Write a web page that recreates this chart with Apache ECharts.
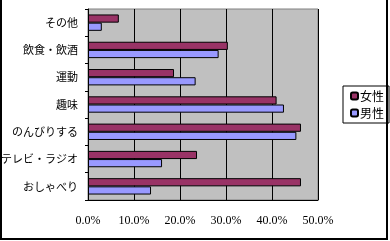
<!DOCTYPE html>
<html><head><meta charset="utf-8">
<script src="https://cdn.jsdelivr.net/npm/echarts@6/dist/echarts.min.js"></script>
<style>html,body{margin:0;padding:0;background:#fff}#c{width:390px;height:241px}</style>
</head><body><div id="c"></div>
<script>
const categories = ['その他', '飲食・飲酒', '運動', '趣味', 'のんびりする', 'テレビ・ラジオ', 'おしゃべり'];
const female = [6.7, 30.4, 18.7, 41.0, 46.3, 23.7, 46.3];
const male = [3.0, 28.4, 23.4, 42.6, 45.3, 16.1, 13.7];
const seriesNames = ['女性', '男性'];
const xTicks = [0, 10, 20, 30, 40, 50];

const chart = echarts.init(document.getElementById('c'));
const jp = '"Noto Sans CJK JP", sans-serif';
chart.setOption({
  animation: false,
  backgroundColor: '#fff',
  grid: { left: 88, top: 9, right: 72, bottom: 41, containLabel: false, outerBoundsMode: 'none',
          show: true, backgroundColor: '#C0C0C0', borderColor: '#808080', borderWidth: 1 },
  legend: {
    orient: 'vertical', left: 343, top: 86,
    padding: [3, 5, 3, 7], itemGap: 3, itemWidth: 7, itemHeight: 7,
    borderColor: '#000', borderWidth: 1, backgroundColor: '#fff',
    textStyle: { fontFamily: jp, fontSize: 12, lineHeight: 14, color: '#000', padding: [0, 0, 0, -3] },
    data: seriesNames
  },
  xAxis: {
    type: 'value', min: xTicks[0], max: xTicks[xTicks.length - 1], interval: 10,
    axisLine: { show: true, lineStyle: { color: '#000', width: 1 } },
    axisTick: { show: false },
    splitLine: { show: true, lineStyle: { color: '#000', width: 1 } },
    axisLabel: { margin: 15, color: '#000', fontSize: 12, fontFamily: '"Liberation Serif", serif', formatter: v => v.toFixed(1) + '%' }
  },
  yAxis: {
    type: 'category', inverse: true, data: categories,
    axisLine: { show: true, lineStyle: { color: '#000', width: 1 } },
    axisTick: { show: true, length: 3, inside: false, lineStyle: { color: '#000' } },
    axisLabel: { margin: 10, color: '#000', fontSize: 11, fontFamily: jp }
  },
  series: [
    { name: seriesNames[0], type: 'bar', data: female, barCategoryGap: '40%', barGap: '0%',
      itemStyle: { color: '#993366', borderColor: '#000', borderWidth: 1 } },
    { name: seriesNames[1], type: 'bar', data: male, barCategoryGap: '40%', barGap: '0%',
      itemStyle: { color: '#9999FF', borderColor: '#000', borderWidth: 1 } }
  ],
  graphic: [{
    type: 'rect', shape: { x: 1, y: -2, width: 386, height: 241 },
    style: { fill: 'none', stroke: '#000', lineWidth: 2 }, silent: true, z: 100
  }]
});
</script></body></html>
